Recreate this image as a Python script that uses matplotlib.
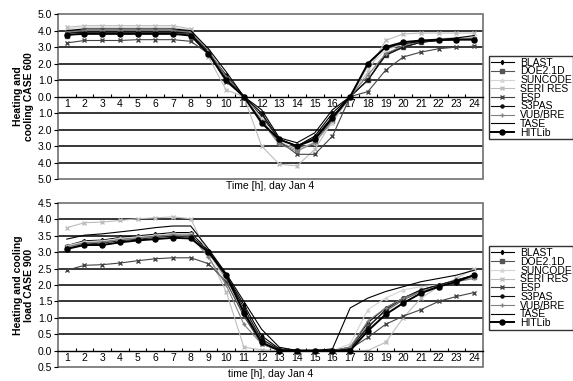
import matplotlib
matplotlib.use("Agg")
import matplotlib.pyplot as plt
from matplotlib.patches import Rectangle
from matplotlib.ticker import FuncFormatter, MultipleLocator

plt.rcParams['font.family'] = ['Liberation Sans', 'DejaVu Sans']

hours = list(range(1, 25))
names = ['BLAST', 'DOE2.1D', 'SUNCODE', 'SERI RES', 'ESP', 'S3PAS', 'VUB/BRE', 'TASE', 'HITLib']

# CASE 600 (cooling shown negative, labels show magnitude)
c600_blast = [3.85, 3.95, 3.95, 3.95, 3.95, 3.95, 3.95, 3.85, 2.7, 1.2, 0.0, -1.2, -2.6, -3.0, -2.4, -1.0, 0.0, 1.0, 2.6, 3.0, 3.3, 3.4, 3.5, 3.5]
c600_doe = [3.7, 3.85, 3.85, 3.85, 3.85, 3.85, 3.85, 3.8, 2.6, 1.0, 0.0, -1.4, -2.8, -3.2, -2.8, -1.5, 0.0, 1.0, 2.5, 3.0, 3.3, 3.4, 3.45, 3.5]
c600_suncode = [4.1, 4.2, 4.2, 4.2, 4.2, 4.2, 4.2, 4.0, 2.6, 1.0, 0.0, -1.3, -2.7, -3.2, -2.8, -1.6, 0.0, 1.8, 2.8, 3.2, 3.4, 3.5, 3.6, 3.6]
c600_seri = [4.2, 4.3, 4.3, 4.3, 4.3, 4.3, 4.3, 4.1, 2.4, 0.4, 0.0, -3.0, -4.1, -4.2, -3.2, -1.5, 0.0, 1.5, 3.4, 3.8, 3.85, 3.85, 3.85, 3.85]
c600_esp = [3.25, 3.4, 3.4, 3.4, 3.45, 3.45, 3.45, 3.35, 2.6, 0.9, 0.0, -1.0, -2.7, -3.5, -3.5, -2.4, 0.0, 0.3, 1.6, 2.4, 2.7, 2.9, 3.0, 3.05]
c600_s3pas = [3.85, 3.9, 3.9, 3.9, 3.9, 3.9, 3.9, 3.85, 2.7, 1.3, 0.0, -1.0, -2.6, -3.0, -2.5, -1.2, 0.0, 1.0, 2.5, 3.0, 3.3, 3.4, 3.45, 3.5]
c600_vub = [3.9, 4.0, 4.0, 4.0, 4.0, 4.0, 4.0, 3.9, 2.8, 1.2, 0.0, -1.5, -2.9, -3.3, -2.8, -1.4, 0.0, 1.3, 2.6, 3.1, 3.35, 3.45, 3.5, 3.55]
c600_tase = [4.0, 4.1, 4.1, 4.1, 4.1, 4.1, 4.1, 4.0, 2.9, 1.5, 0.0, -0.8, -2.5, -2.8, -2.2, -0.8, 0.0, 2.0, 3.0, 3.2, 3.35, 3.45, 3.55, 3.7]
c600_hitlib = [3.75, 3.8, 3.8, 3.8, 3.8, 3.8, 3.8, 3.7, 2.6, 1.0, 0.0, -1.6, -2.6, -3.0, -2.6, -1.3, 0.0, 2.0, 3.0, 3.3, 3.4, 3.45, 3.45, 3.45]

# CASE 900
c900_blast = [3.2, 3.35, 3.37, 3.45, 3.5, 3.55, 3.6, 3.6, 3.05, 2.3, 1.4, 0.45, 0.05, 0.0, 0.0, 0.0, 0.1, 0.85, 1.3, 1.6, 1.85, 2.0, 2.15, 2.3]
c900_doe = [3.15, 3.3, 3.32, 3.4, 3.45, 3.5, 3.55, 3.55, 3.0, 2.2, 1.2, 0.3, 0.02, 0.0, 0.0, 0.0, 0.05, 0.75, 1.2, 1.55, 1.8, 1.95, 2.1, 2.25]
c900_suncode = [3.2, 3.32, 3.35, 3.42, 3.47, 3.52, 3.56, 3.56, 3.0, 2.1, 1.1, 0.3, 0.02, 0.0, 0.0, 0.0, 0.2, 1.25, 1.6, 1.85, 1.95, 2.0, 2.1, 2.25]
c900_seri = [3.75, 3.9, 3.92, 3.97, 4.02, 4.05, 4.08, 4.02, 2.9, 1.8, 0.1, 0.02, 0.0, 0.0, 0.0, 0.0, 0.0, 0.0, 0.25, 1.0, 1.6, 1.95, 2.2, 2.5]
c900_esp = [2.45, 2.6, 2.62, 2.67, 2.74, 2.8, 2.83, 2.83, 2.65, 2.1, 1.05, 0.2, 0.0, 0.0, 0.0, 0.0, 0.05, 0.4, 0.8, 1.05, 1.25, 1.5, 1.65, 1.77]
c900_s3pas = [3.1, 3.25, 3.28, 3.35, 3.4, 3.45, 3.5, 3.5, 3.05, 2.3, 1.3, 0.35, 0.03, 0.0, 0.0, 0.0, 0.05, 0.7, 1.25, 1.6, 1.85, 2.0, 2.15, 2.3]
c900_vub = [3.15, 3.28, 3.3, 3.38, 3.42, 3.48, 3.52, 3.5, 2.85, 2.0, 0.8, 0.2, 0.0, 0.0, 0.0, 0.0, 0.1, 0.9, 1.3, 1.6, 1.8, 1.95, 2.1, 2.2]
c900_tase = [3.4, 3.52, 3.56, 3.62, 3.68, 3.75, 3.8, 3.8, 3.1, 2.35, 1.5, 0.65, 0.1, 0.0, 0.0, 0.05, 1.3, 1.6, 1.8, 1.95, 2.1, 2.2, 2.3, 2.45]
c900_hitlib = [3.1, 3.22, 3.22, 3.3, 3.36, 3.4, 3.44, 3.42, 3.0, 2.3, 1.15, 0.25, 0.0, 0.0, 0.0, 0.0, 0.0, 0.6, 1.1, 1.45, 1.75, 1.95, 2.1, 2.3]

case600 = [c600_blast, c600_doe, c600_suncode, c600_seri, c600_esp, c600_s3pas, c600_vub, c600_tase, c600_hitlib]
case900 = [c900_blast, c900_doe, c900_suncode, c900_seri, c900_esp, c900_s3pas, c900_vub, c900_tase, c900_hitlib]

styles = [
    dict(color='black', marker='d', ms=2.2, lw=0.8),
    dict(color='#555555', marker='s', ms=2.2, lw=0.8),
    dict(color='#d4d4d4', marker='^', ms=2.2, lw=0.8),
    dict(color='#bdbdbd', marker='x', ms=2.2, lw=0.8),
    dict(color='#444444', marker='x', ms=2.2, lw=0.8),
    dict(color='#111111', marker='o', ms=2.2, lw=0.8),
    dict(color='#808080', marker='+', ms=2.8, lw=0.8),
    dict(color='black', marker=None, lw=0.8),
    dict(color='black', marker='o', ms=3.6, lw=1.4),
]

fig = plt.figure(figsize=(5.73, 3.81), dpi=100)
ax1 = fig.add_axes([0.101, 0.530, 0.742, 0.433])
ax2 = fig.add_axes([0.101, 0.037, 0.742, 0.430])


def setup(ax, data, ylo, yhi, step, ylabel, xlabel, leg_y):
    for s, st, nm in zip(data, styles, names):
        ax.plot(hours, s, label=nm, **st)
    ax.set_xlim(0.5, 24.5)
    ax.set_ylim(ylo, yhi)
    ax.yaxis.set_major_locator(MultipleLocator(step))
    ax.yaxis.set_major_formatter(FuncFormatter(lambda v, p: f"{abs(v):.1f}"))
    ax.set_xticks(hours)
    ax.set_xticks([h + 0.5 for h in hours[:-1]], minor=True)
    ax.tick_params(axis='x', which='major', length=0, labelsize=7.5, pad=2)
    ax.tick_params(axis='x', which='minor', length=2.5, direction='in', width=0.8)
    ax.tick_params(axis='y', labelsize=7.5, length=3, direction='out', pad=1)
    for y in ax.get_yticks():
        if ylo < y < yhi and abs(y) > 1e-9:
            ax.axhline(y, color='black', lw=1.1, zorder=0)
    for k in ['top', 'right', 'left']:
        ax.spines[k].set_visible(False)
    ax.spines['bottom'].set_position(('data', 0))
    ax.spines['bottom'].set_linewidth(1.0)
    ax.add_patch(Rectangle((0, 0), 1, 1, transform=ax.transAxes, fill=False,
                           edgecolor='#707070', lw=1.2, clip_on=False))
    ax.set_ylabel(ylabel, fontsize=7.5, fontweight='bold', labelpad=3, linespacing=1.1)
    ax.text(0.5, -0.045, xlabel, transform=ax.transAxes, ha='center', va='center', fontsize=7.5)
    ax.legend(loc='upper left', bbox_to_anchor=(1.015, leg_y), fontsize=7.5, frameon=True,
              fancybox=False, edgecolor='black', labelspacing=-0.12, handlelength=2.2,
              handletextpad=0.6, borderpad=0.15, borderaxespad=0)


setup(ax1, case600, -5, 5, 1.0, "Heating and\ncooling CASE 600", "Time [h], day Jan 4", 0.745)
setup(ax2, case900, -0.5, 4.5, 0.5, "Heating and cooling\nload CASE 900", "time [h], day Jan 4", 0.735)

fig.savefig("out.png", dpi=100)
